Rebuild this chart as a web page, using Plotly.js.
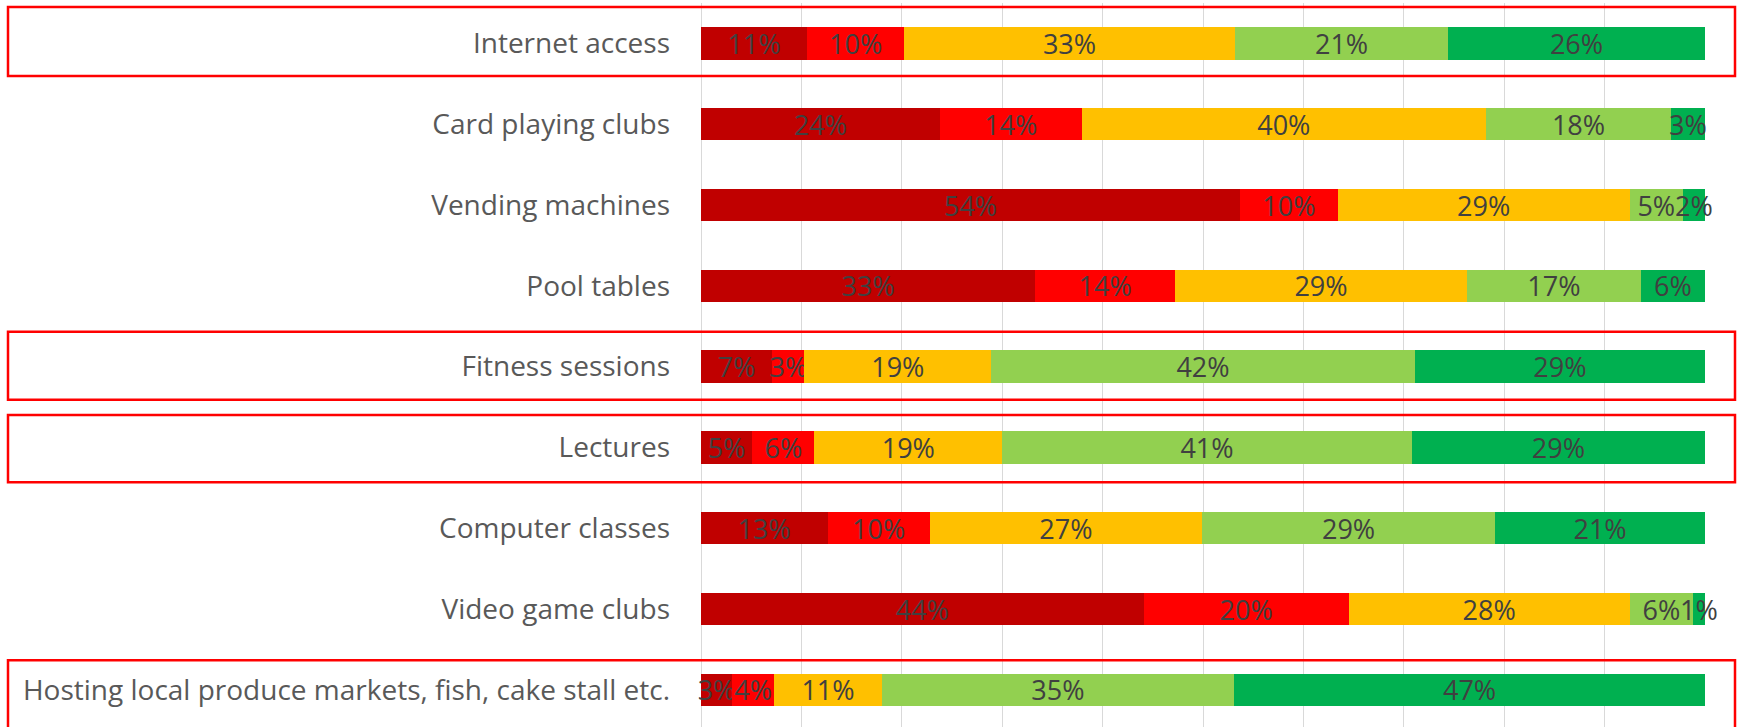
<!DOCTYPE html>
<html>
<head>
<meta charset="utf-8">
<script src="https://cdn.plot.ly/plotly-3.0.1.min.js"></script>
<style>
  html, body { margin: 0; padding: 0; background: #ffffff; }
  #chart { width: 1740px; height: 727px; }
</style>
</head>
<body>
<div id="chart"></div>
<script>
// Categories, top to bottom
const categories = [
  "Internet access",
  "Card playing clubs",
  "Vending machines",
  "Pool tables",
  "Fitness sessions",
  "Lectures",
  "Computer classes",
  "Video game clubs",
  "Hosting local produce markets, fish, cake stall etc."
];

// Series values (percent)
const seriesNames = ["Very unlikely", "Unlikely", "Neutral", "Likely", "Very likely"];
const s1 = [10.6, 23.8, 53.7, 33.3, 7.1, 5.1, 12.6, 44.1, 3.1];
const s2 = [9.6, 14.1, 9.7, 13.9, 3.2, 6.2, 10.2, 20.4, 4.2];
const s3 = [33.0, 40.3, 29.1, 29.1, 18.6, 18.7, 27.1, 28.0, 10.7];
const s4 = [21.2, 18.4, 5.3, 17.3, 42.2, 40.8, 29.2, 6.3, 35.1];
const s5 = [25.6, 3.4, 2.2, 6.4, 28.9, 29.2, 20.9, 1.2, 46.9];

// Highlighted rows (red boxes)
const highlighted = ["Internet access", "Fitness sessions", "Lectures",
                     "Hosting local produce markets, fish, cake stall etc."];

const colors = ["#C00000", "#FF0000", "#FFC000", "#92D050", "#00B050"];
const allSeries = [s1, s2, s3, s4, s5];

const FONT = "Open Sans, Lato, Liberation Sans, sans-serif";

const traces = allSeries.map((vals, i) => ({
  type: "bar",
  orientation: "h",
  name: seriesNames[i],
  y: categories,
  x: vals,
  marker: { color: colors[i], line: { width: 0 } },
  texttemplate: "%{x:.0f}%",
  textposition: "inside",
  insidetextanchor: "middle",
  textangle: 0,
  constraintext: "none",
  insidetextfont: { family: FONT, size: 27, color: "#404040" },
  cliponaxis: false,
  hoverinfo: "skip"
}));

// Geometry of the figure (pixels)
const W = 1740, H = 727;
const mL = 701, mR = 35, mT = 3, mB = 0;
const plotW = W - mL - mR, plotH = H - mT - mB;
const rowPx = 80.8;
const yBottom = -0.5 + plotH / rowPx;

function px2paperX(px) { return (px - mL) / plotW; }
function px2paperY(py) { return (H - mB - py) / plotH; }

// box extents (pixel rows) for the highlighted categories
const boxPx = {
  "Internet access": [7, 76],
  "Fitness sessions": [331.7, 399.7],
  "Lectures": [415, 482.3],
  "Hosting local produce markets, fish, cake stall etc.": [660.3, 735]
};

const shapes = highlighted.map(c => ({
  type: "rect",
  xref: "paper", yref: "paper",
  x0: px2paperX(8), x1: px2paperX(1735),
  y0: px2paperY(boxPx[c][1]), y1: px2paperY(boxPx[c][0]),
  line: { color: "#FF0000", width: 2.5 },
  fillcolor: "rgba(0,0,0,0)",
  layer: "above"
}));

const layout = {
  width: W, height: H,
  margin: { l: mL, r: mR, t: mT, b: mB, pad: 0 },
  barmode: "stack",
  bargap: 0.6,
  showlegend: false,
  paper_bgcolor: "#ffffff",
  plot_bgcolor: "#ffffff",
  font: { family: FONT, color: "#595959" },
  uniformtext: { mode: "show", minsize: 27 },
  xaxis: {
    range: [0, 100],
    dtick: 10,
    showgrid: true,
    gridcolor: "#d9d9d9",
    gridwidth: 1,
    zeroline: true,
    zerolinecolor: "#d9d9d9",
    zerolinewidth: 1,
    showticklabels: false,
    ticks: "",
    showline: false,
    fixedrange: true
  },
  yaxis: {
    type: "category",
    categoryorder: "array",
    categoryarray: categories,
    range: [yBottom, -0.5],
    showgrid: false,
    zeroline: false,
    showline: false,
    ticks: "",
    ticklabelstandoff: 30,
    tickfont: { family: FONT, size: 28, color: "#595959" },
    fixedrange: true
  },
  shapes: shapes
};

Plotly.newPlot("chart", traces, layout, { displayModeBar: false, staticPlot: true });
</script>
</body>
</html>
